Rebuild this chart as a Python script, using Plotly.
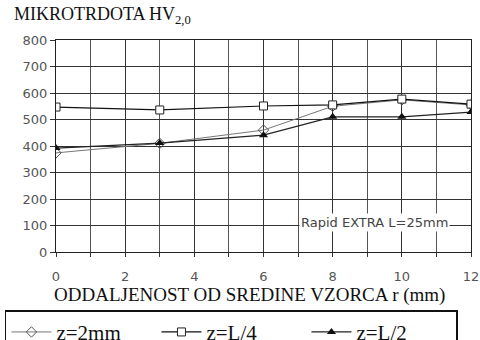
import plotly.graph_objects as go

x_vals = [0, 3, 6, 8, 10, 12]
z_2mm = [374, 410, 460, 550, 574, 555]
z_L4 = [547, 536, 551, 555, 577, 558]
z_L2 = [392, 411, 441, 510, 510, 528]
x_ticks = [0, 2, 4, 6, 8, 10, 12]
y_ticks = [0, 100, 200, 300, 400, 500, 600, 700, 800]

SERIF = "Liberation Serif, Times New Roman, serif"
SANS = "DejaVu Sans, Arial, sans-serif"

fig = go.Figure()
fig.add_trace(go.Scatter(x=x_vals, y=z_2mm, name="z=2mm", mode="lines+markers",
                         line=dict(color="#777", width=1),
                         marker=dict(symbol="diamond-open", size=8, color="#555", line=dict(width=1))))
fig.add_trace(go.Scatter(x=x_vals, y=z_L4, name="z=L/4", mode="lines+markers",
                         line=dict(color="#111", width=1.2),
                         marker=dict(symbol="square", size=8, color="white", line=dict(width=1, color="#222"))))
fig.add_trace(go.Scatter(x=x_vals, y=z_L2, name="z=L/2", mode="lines+markers",
                         line=dict(color="#222", width=1.2),
                         marker=dict(symbol="triangle-up", size=8, color="#111")))

fig.add_annotation(x=9.21, y=113, text="Rapid EXTRA L=25mm", showarrow=False,
                   font=dict(family=SANS, size=13, color="#444"),
                   bgcolor="white", borderpad=1)
fig.add_annotation(xref="paper", yref="paper", x=-0.105, y=1.05, xanchor="left", yanchor="bottom",
                   text="MIKROTRDOTA HV<sub>2,0</sub>", showarrow=False,
                   font=dict(family=SERIF, size=18, color="#111"))
fig.add_annotation(xref="paper", yref="paper", x=0.467, y=-0.203, xanchor="center", yanchor="middle",
                   text="ODDALJENOST OD SREDINE VZORCA r (mm)", showarrow=False,
                   font=dict(family=SERIF, size=19, color="#111"))

fig.update_layout(
    width=480, height=340,
    margin=dict(l=56, r=9, t=40, b=88, autoexpand=False),
    paper_bgcolor="white", plot_bgcolor="white",
    showlegend=True,
    legend=dict(orientation="h", x=-0.123, y=-0.275, xanchor="left", yanchor="top",
                bordercolor="#111", borderwidth=1.5,
                font=dict(family=SERIF, size=21, color="#111"),
                entrywidth=95, entrywidthmode="pixels", itemwidth=40,
                tracegroupgap=0),
    xaxis=dict(range=[0, 12], tickvals=x_ticks, showgrid=True, gridcolor="#333", gridwidth=1,
               minor=dict(dtick=1, showgrid=True, gridcolor="#555", gridwidth=1, ticks="outside", ticklen=4, tickcolor="#333"),
               ticks="outside", ticklen=4, tickcolor="#333", ticklabelstandoff=8,
               showline=True, linecolor="#222", mirror=True, zeroline=False,
               tickfont=dict(family=SANS, size=13, color="#555")),
    yaxis=dict(range=[0, 800], tickvals=y_ticks, showgrid=True, gridcolor="#333", gridwidth=1,
               ticks="outside", ticklen=5, tickcolor="#333",
               showline=True, linecolor="#222", mirror=True, zeroline=False,
               tickfont=dict(family=SANS, size=13, color="#555")),
)

fig.write_html("out.html")
